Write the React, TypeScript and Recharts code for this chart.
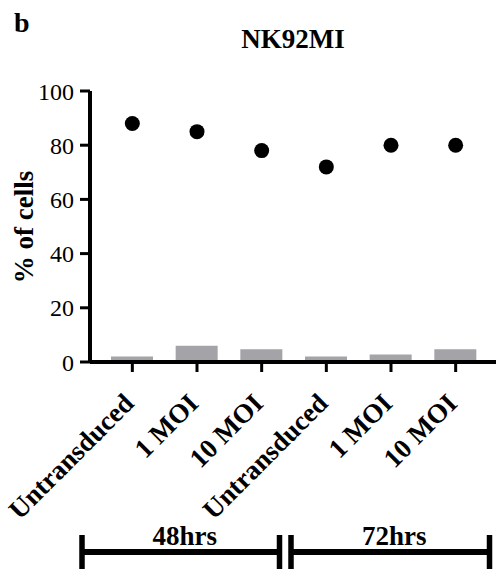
import React from 'react';
import { ComposedChart, Bar, Line, XAxis, YAxis, Customized } from 'recharts';

const categories = ['Untransduced', '1 MOI', '10 MOI', 'Untransduced', '1 MOI', '10 MOI'];
const livePercent = [88, 85, 78, 72, 80, 80];
const transducedPercent = [2, 6, 4.7, 2, 2.8, 4.7];
const yTicks = [0, 20, 40, 60, 80, 100];
const timeGroups = ['48hrs', '72hrs'];
const title = 'NK92MI';
const panelLetter = 'b';
const yLabel = '% of cells';

const data = categories.map((c, i) => ({
  idx: i,
  name: c,
  live: livePercent[i],
  transduced: transducedPercent[i],
}));

const FONT = 'Liberation Serif, Times New Roman, serif';

const XTick = (props: any) => {
  const { x, y, payload } = props;
  const bx = x + 3;
  const by = y + 31;
  return (
    <text
      x={bx}
      y={by}
      transform={`rotate(-45 ${bx} ${by})`}
      textAnchor="end"
      fontFamily={FONT}
      fontWeight="bold"
      fontSize={27}
      fill="#000"
    >
      {categories[payload.value]}
    </text>
  );
};

const Annotations = () => {
  const brackets = [
    { x1: 82, x2: 279.5 },
    { x1: 291, x2: 489.5 },
  ];
  return (
    <g>
      <text x={14} y={32} fontFamily={FONT} fontWeight="bold" fontSize={28} fill="#000">
        {panelLetter}
      </text>
      <text x={293} y={48} textAnchor="middle" fontFamily={FONT} fontWeight="bold" fontSize={27} fill="#000">
        {title}
      </text>
      <text
        x={33}
        y={227}
        transform="rotate(-90 33 227)"
        textAnchor="middle"
        fontFamily={FONT}
        fontWeight="bold"
        fontSize={27}
        fill="#000"
      >
        {yLabel}
      </text>
      {brackets.map((b, i) => (
        <g key={i}>
          <line x1={b.x1} x2={b.x2} y1={552} y2={552} stroke="#000" strokeWidth={6} />
          <line x1={b.x1} x2={b.x1} y1={535} y2={569} stroke="#000" strokeWidth={5.5} />
          <line x1={b.x2} x2={b.x2} y1={535} y2={569} stroke="#000" strokeWidth={5.5} />
          <text
            x={(b.x1 + b.x2) / 2 + 4}
            y={545}
            textAnchor="middle"
            fontFamily={FONT}
            fontWeight="bold"
            fontSize={27}
            fill="#000"
          >
            {timeGroups[i]}
          </text>
        </g>
      ))}
    </g>
  );
};

export default function App() {
  return (
    <div style={{ position: 'absolute', left: 0, top: 0, width: 496, height: 571, background: '#fff' }}>
      <ComposedChart
        width={496}
        height={571}
        data={data}
        margin={{ top: 91, right: 0, bottom: 179, left: 0 }}
      >
        <XAxis
          dataKey="idx"
          type="category"
          padding={{ left: 10, right: 8 }}
          height={30}
          tickSize={10}
          interval={0}
          axisLine={{ stroke: '#000', strokeWidth: 4 }}
          tickLine={{ stroke: '#000', strokeWidth: 3 }}
          tick={<XTick />}
        />
        <YAxis
          domain={[0, 100]}
          ticks={yTicks}
          width={90}
          tickSize={10}
          tickMargin={6}
          axisLine={{ stroke: '#000', strokeWidth: 4 }}
          tickLine={{ stroke: '#000', strokeWidth: 3 }}
          tick={{ fill: '#000', fontSize: 24, fontFamily: FONT }}
        />
        <Bar dataKey="transduced" fill="#a3a3a8" barSize={42} isAnimationActive={false} />
        <Line
          dataKey="live"
          stroke="none"
          legendType="none"
          dot={{ r: 7.5, fill: '#000', stroke: 'none' }}
          activeDot={false}
          isAnimationActive={false}
        />
        <Customized component={Annotations} />
      </ComposedChart>
    </div>
  );
}
